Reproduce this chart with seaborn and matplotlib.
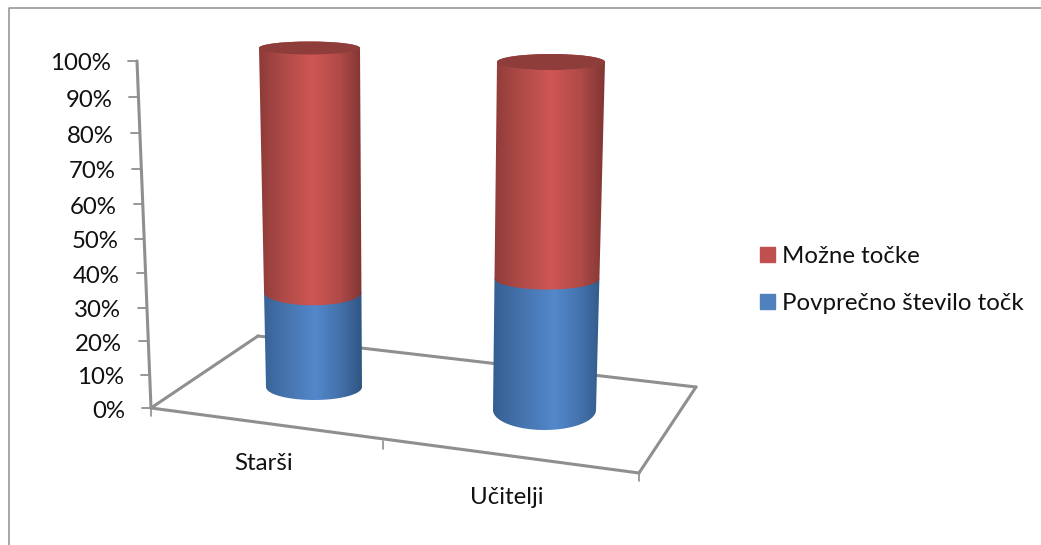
import numpy as np
import pandas as pd
import matplotlib
matplotlib.use("Agg")
import matplotlib.pyplot as plt
from matplotlib.colors import LinearSegmentedColormap
from matplotlib.patches import Polygon, Ellipse, Patch
import seaborn as sns

# Chart values
categories = ["Starši", "Učitelji"]
series_names = ["Možne točke", "Povprečno število točk"]
average_points = [29, 39]
possible_points = [71, 61]
axis_ticks = list(range(0, 101, 10))

# Canvas size and the projected geometry of the 3D scene, in pixels from top-left
W, H = 1041, 545
FRONT_LEFT, BACK_LEFT, BACK_RIGHT, FRONT_RIGHT = (151, 408), (258, 336), (696, 387), (639, 473)
AXIS_TOP = (137, 61)
CATEGORY_SPLIT = (383, 441)
LABEL_POS = [(264, 464), (507, 498)]
# per cylinder: left/right at base, left/right at top, base y, top y, cap half-heights
CYLINDERS = [
    dict(base=(266, 362), top=(259, 360), y=(387, 48), caps=(13, 13, 6.5)),
    dict(base=(493, 596), top=(497, 605), y=(410, 62), caps=(20, 11, 8)),
]
PERSPECTIVE = 1.053
FONT_SIZE = 17.3

RED = LinearSegmentedColormap.from_list("red", [(0, "#8E3B39"), (.25, "#B04B48"), (.52, "#CF5653"), (.78, "#B04B48"), (1, "#803533")])
BLUE = LinearSegmentedColormap.from_list("blue", [(0, "#345F92"), (.25, "#4573AD"), (.55, "#5388CB"), (.8, "#4370A9"), (1, "#2F5683")])
CAP_RED = "#8E3D3B"
LINE = "#8F8F8F"
TEXT = "#111111"

sns.set_theme(style="white")
plt.rcParams["font.family"] = ["Lato", "DejaVu Sans"]


def fwd(v):
    t = np.asarray(v, dtype=float) / 100
    return t / (t + PERSPECTIVE * (1 - t))


def inv(f):
    f = np.asarray(f, dtype=float)
    return 100 * f * PERSPECTIVE / (1 - f + f * PERSPECTIVE)


fig = plt.figure(figsize=(W / 100, H / 100), dpi=100, facecolor="white")
canvas = fig.add_axes([0, 0, 1, 1], zorder=2)
canvas.patch.set_visible(False)
canvas.axis("off")

# Outer chart frame
canvas.plot([9, 9, W], [H, 8, 8], color=LINE, lw=1.1)

# Floor of the 3D plot
line_style = dict(color=LINE, lw=2.2, solid_capstyle="round", zorder=1)
for a, b in [(FRONT_LEFT, BACK_LEFT), (BACK_LEFT, BACK_RIGHT), (BACK_RIGHT, FRONT_RIGHT), (FRONT_RIGHT, FRONT_LEFT)]:
    canvas.plot([a[0], b[0]], [a[1], b[1]], **line_style)
for x, y in [FRONT_LEFT, CATEGORY_SPLIT, FRONT_RIGHT]:
    canvas.plot([x, x], [y, y + 8], color=LINE, lw=1.2, zorder=1)

# Value axis follows the same perspective scale as the cylinders
fr = fwd(axis_ticks)
ax_x = FRONT_LEFT[0] + (AXIS_TOP[0] - FRONT_LEFT[0]) * fr
ax_y = FRONT_LEFT[1] + (AXIS_TOP[1] - FRONT_LEFT[1]) * fr
canvas.plot(ax_x, ax_y, **line_style)
for tick, x, y in zip(axis_ticks, ax_x, ax_y):
    canvas.plot([x - 9, x], [y, y], color=LINE, lw=1.3, zorder=1)
    canvas.text(x - 26, y + 3, f"{tick}%", ha="right", va="center", fontsize=FONT_SIZE, color=TEXT)

for (x, y), name in zip(LABEL_POS, categories):
    canvas.text(x, y, name, ha="center", va="center", fontsize=FONT_SIZE, color=TEXT)

table = pd.DataFrame({
    "category": categories,
    "average": average_points,
    "total": np.add(average_points, possible_points),
})

for i, geo in enumerate(CYLINDERS):
    row = table.iloc[[i]]
    x0, x1 = max(geo["base"][0], geo["top"][0]), min(geo["base"][1], geo["top"][1])
    y_base, y_top = geo["y"]
    ax = fig.add_axes([x0 / W, 1 - y_base / H, (x1 - x0) / W, (y_base - y_top) / H], zorder=1)
    sns.barplot(data=row, x="category", y="total", color="#C0504D", width=1, saturation=1, ax=ax)
    sns.barplot(data=row, x="category", y="average", color="#4F81BD", width=1, saturation=1, ax=ax)
    ax.set_yscale("function", functions=(fwd, inv))
    ax.set_xlim(-0.5, 0.5)
    ax.set_ylim(0, 100)
    ax.axis("off")

    total_bar, avg_bar = ax.patches[0], ax.patches[1]
    boundaries = [0, avg_bar.get_height(), total_bar.get_height()]

    def y_of(v):
        return H - ax.transData.transform((0, v))[1]

    def sides(v):
        t = (y_base - y_of(v)) / (y_base - y_top)
        left = geo["base"][0] + (geo["top"][0] - geo["base"][0]) * t
        right = geo["base"][1] + (geo["top"][1] - geo["base"][1]) * t
        return left, right

    def arc(v, half, n=60):
        # lower half of the ring at height v, left to right
        left, right = sides(v)
        th = np.linspace(np.pi, 0, n)
        return np.column_stack([(left + right) / 2 + (right - left) / 2 * np.cos(th), y_of(v) + half * np.sin(th)])

    x_min = min(geo["base"][0], geo["top"][0])
    x_max = max(geo["base"][1], geo["top"][1])
    for k, cmap in enumerate([BLUE, RED]):
        v0, v1 = boundaries[k], boundaries[k + 1]
        low = arc(v0, geo["caps"][k])
        high_l, high_r = sides(v1)
        if k == 1:
            high = arc(v1, -geo["caps"][2])[::-1]
        else:
            high = np.array([[high_r, y_of(v1)], [high_l, y_of(v1)]])
        shape = Polygon(np.vstack([low, high]), closed=True, transform=canvas.transData, fc="none", ec="none")
        canvas.add_patch(shape)
        im = canvas.imshow(np.linspace(0, 1, 256)[None, :], cmap=cmap, aspect="auto",
                           extent=(x_min, x_max, y_base + 30, y_top - 20), zorder=3 + k)
        im.set_clip_path(shape)

    left, right = sides(boundaries[2])
    canvas.add_patch(Ellipse(((left + right) / 2, y_of(boundaries[2])), right - left, 2 * geo["caps"][2],
                             fc=CAP_RED, ec="none", zorder=6))

canvas.set_xlim(0, W)
canvas.set_ylim(H, 0)

handles = [Patch(color="#C0504D"), Patch(color="#4F81BD")]
fig.legend(handles, series_names, loc="upper left", bbox_to_anchor=(750.4 / W, 1 - 236.5 / H), frameon=False,
           fontsize=FONT_SIZE, labelcolor=TEXT, handlelength=0.625, handleheight=0.625, handletextpad=0.29,
           labelspacing=1.08, borderaxespad=0, borderpad=0.4)

fig.savefig("out.png", dpi=100, facecolor="white")
